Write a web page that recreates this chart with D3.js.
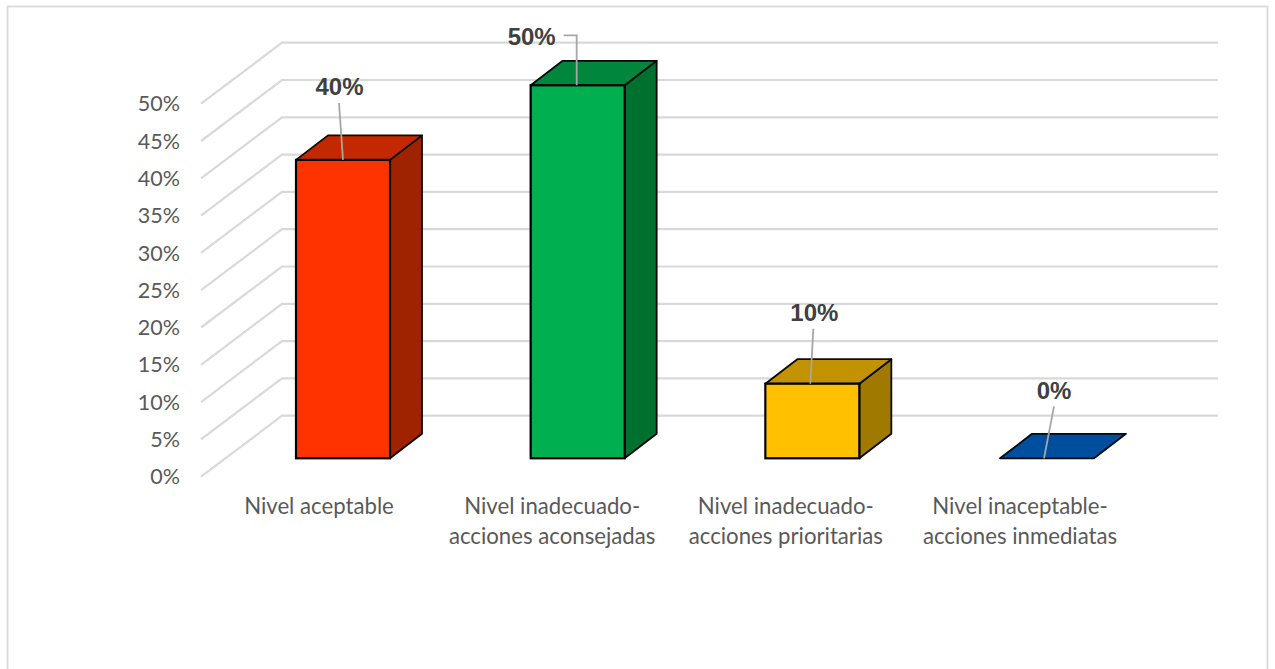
<!DOCTYPE html>
<html>
<head>
<meta charset="utf-8">
<script src="https://cdnjs.cloudflare.com/ajax/libs/d3/7.8.5/d3.min.js"></script>
<style>
  html, body { margin: 0; padding: 0; background: #fff; overflow: hidden; }
  svg { display: block; }
  .tick text, .cat { font-family: Lato, "Open Sans", sans-serif; fill: #595959; }
  .val { font-family: "Liberation Sans", Arial, sans-serif; font-weight: 700; fill: #404040; }
</style>
</head>
<body>
<svg id="chart" width="1275" height="669"></svg>
<script>
// Risk level shares shown as 3D columns
const categories = [
  ["Nivel aceptable"],
  ["Nivel inadecuado-", "acciones aconsejadas"],
  ["Nivel inadecuado-", "acciones prioritarias"],
  ["Nivel inaceptable-", "acciones inmediatas"]
];
const values = [0.40, 0.50, 0.10, 0];
const valueLabels = ["40%", "50%", "10%", "0%"];
const tickValues = [0, 0.05, 0.10, 0.15, 0.20, 0.25, 0.30, 0.35, 0.40, 0.45, 0.50];

// Face colours for each column
const frontColors = ["#ff3300", "#00b050", "#ffc000", "#0050a0"];
const topColors   = ["#c32800", "#00863d", "#c29200", "#004f9e"];
const sideColors  = ["#a02300", "#00702f", "#a07a00", "#003f80"];

// Projection of the chart box
const H = 669;
const depthX = 32, depthY = -24.5;     // column depth offset
const wallX0 = 201, wallX1 = 282, wallX2 = 1218;
const floorFrontShift = 18.4, floorBackShift = -42.6; // wall lines relative to the column base
const axisShift = 18.7;

const svg = d3.select("#chart");

svg.append("rect")
  .attr("x", 7.5).attr("y", 6.5).attr("width", 1260).attr("height", H + 20)
  .attr("fill", "#fff").attr("stroke", "#d9d9d9").attr("stroke-width", 1.8);

const y = d3.scaleLinear().domain([0, 0.5]).range([458.3, 85.3]);
// Columns start 234.7px apart
const colX = d3.scaleLinear().domain([0, 3]).range([296, 1000]);
const colW = 94;

// Gridlines folded over the side wall and back wall
svg.append("g").selectAll("polyline").data(tickValues).join("polyline")
  .attr("points", d => [
    [wallX0, y(d) + floorFrontShift],
    [wallX1, y(d) + floorBackShift],
    [wallX2, y(d) + floorBackShift]
  ].join(" "))
  .attr("fill", "none").attr("stroke", "#d9d9d9").attr("stroke-width", 2.2);

// Value axis labels
const axisScale = y.copy().range(y.range().map(v => v + axisShift));
const axisG = svg.append("g").attr("transform", "translate(187,0)")
  .call(d3.axisLeft(axisScale).tickValues(tickValues).tickSize(0).tickPadding(7).tickFormat(d3.format(".0%")));
axisG.select(".domain").remove();
axisG.selectAll("text").attr("font-size", 21.5);

// Columns: side, top, front
const columns = values.map((v, i) => ({ v, i }));
const bars = svg.append("g").selectAll("g").data(columns).join("g");
const edge = "#0a0a0a";
bars.filter(d => d.v > 0).append("polygon")
  .attr("points", d => {
    const r = colX(d.i) + colW;
    return [[r, y(d.v)], [r + depthX, y(d.v) + depthY], [r + depthX, y(0) + depthY], [r, y(0)]].join(" ");
  })
  .attr("fill", d => sideColors[d.i]).attr("stroke", edge).attr("stroke-width", 1.8).attr("stroke-linejoin", "round");
bars.append("polygon")
  .attr("points", d => {
    const l = colX(d.i), r = l + colW;
    return [[l, y(d.v)], [l + depthX, y(d.v) + depthY], [r + depthX, y(d.v) + depthY], [r, y(d.v)]].join(" ");
  })
  .attr("fill", d => topColors[d.i]).attr("stroke", edge).attr("stroke-width", 1.8).attr("stroke-linejoin", "round");
bars.append("rect")
  .attr("x", d => colX(d.i))
  .attr("y", d => y(d.v))
  .attr("width", colW)
  .attr("height", d => y(0) - y(d.v))
  .attr("fill", d => frontColors[d.i])
  .attr("stroke", "#000").attr("stroke-width", 2.2);

// Leader lines and data labels, placed relative to each column top
const leaderAnchorX = [47, 46, 45, 44];
const leaderStart = [[-4, -57], [-13, -50], [3, -55], [10, -52]];
const labelOffset = [[-3.5, -65], [-45, -40.5], [4, -63], [10, -59.5]];

bars.append("polyline")
  .attr("points", d => {
    const ax = colX(d.i) + leaderAnchorX[d.i], ay = y(d.v);
    const sx = ax + leaderStart[d.i][0], sy = ay + leaderStart[d.i][1];
    return d.i === 1
      ? [[sx, sy], [ax, sy], [ax, ay]].join(" ")
      : [[sx, sy], [ax, ay]].join(" ");
  })
  .attr("fill", "none").attr("stroke", "#a6a6a6").attr("stroke-width", 1.8);

bars.append("text").attr("class", "val")
  .attr("x", d => colX(d.i) + leaderAnchorX[d.i] + labelOffset[d.i][0])
  .attr("y", d => y(d.v) + labelOffset[d.i][1])
  .attr("text-anchor", "middle")
  .attr("font-size", 24)
  .text(d => valueLabels[d.i]);

// Category labels
const catCentreShift = [-24, -25.5, -26.5, -27];
const catG = svg.append("g").selectAll("text").data(categories).join("text")
  .attr("class", "cat")
  .attr("text-anchor", "middle")
  .attr("font-size", 22.2)
  .attr("transform", (d, i) => `translate(${colX(i) + colW / 2 + catCentreShift[i]},514)`);
catG.selectAll("tspan").data(d => d).join("tspan")
  .attr("x", 0).attr("dy", (d, i) => i ? 30 : 0).text(d => d);
</script>
</body>
</html>
